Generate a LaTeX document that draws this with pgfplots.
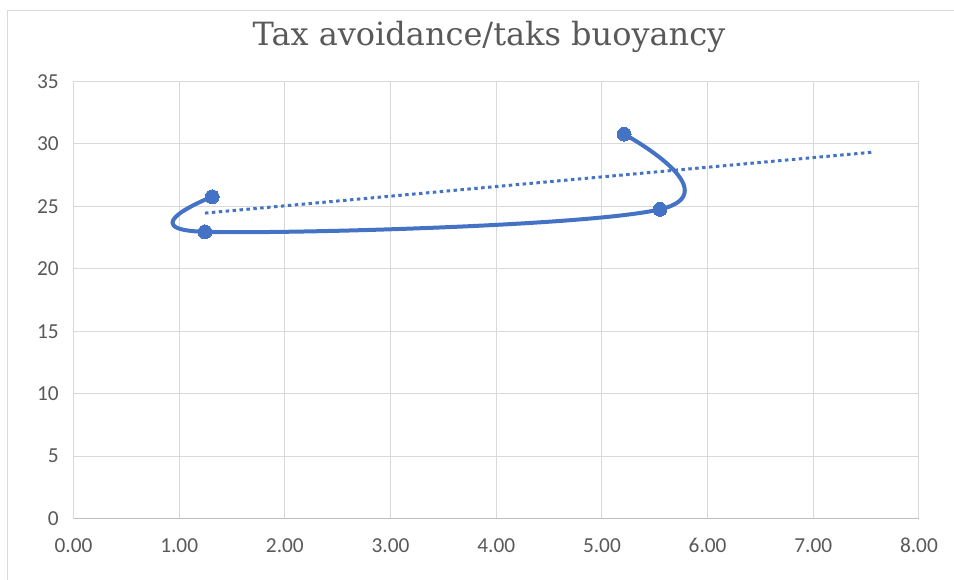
\documentclass[border=0pt]{standalone}
\usepackage{fontspec}
\setmainfont{Carlito}
\newfontfamily\titlefont{DejaVu Serif}
\usepackage{pgfplots}
\pgfplotsset{compat=1.18}
\definecolor{xlblue}{HTML}{4472C4}
\definecolor{xlgrid}{HTML}{D9D9D9}
\definecolor{xlaxis}{HTML}{BFBFBF}
\definecolor{xltext}{HTML}{595959}
\begin{document}
\begin{tikzpicture}[x=0.75pt,y=0.75pt]
\begin{axis}[
  at={(0,0)}, anchor=south west,
  scale only axis, width=634.1pt, height=327.75pt,
  xmin=0, xmax=8, ymin=0, ymax=35,
  xtick={0,1,...,8}, ytick={0,5,...,35},
  grid=major, major grid style={xlgrid, line width=0.75pt},
  axis x line*=bottom, axis y line*=left,
  x axis line style={xlaxis, line width=0.75pt, -},
  y axis line style={xlgrid, line width=0.75pt, -},
  major tick length=0pt,
  /pgf/number format/assume math mode=true,
  tick label style={font=\fontsize{16}{18}\selectfont, text=xltext, inner sep=0pt},
  xticklabel style={anchor=north, yshift=-14.6pt,
    /pgf/number format/.cd, fixed, fixed zerofill, precision=2},
  yticklabel style={anchor=east, xshift=-10.9pt},
  clip=false,
]
% series, in the order Excel joins them
\addplot[xlblue, line width=3pt, smooth, tension=0.62,
  mark=*, mark size=5.2pt, mark options={fill=xlblue, draw=xlblue, line width=0pt}]
  coordinates {(1.312,25.77) (1.244,22.96) (5.549,24.76) (5.211,30.78)};
% linear trendline, forecast 2 units forward
\addplot[xlblue, line width=2.25pt, dash pattern=on 2.6pt off 2.6pt]
  coordinates {(1.244,24.46) (7.549,29.33)};
\end{axis}
\node[anchor=base, text=xltext, inner sep=0pt, font=\titlefont\fontsize{24}{28}\selectfont]
  at (415.5,472.5) {Tax avoidance/taks buoyancy};
\draw[xlgrid, line width=0.75pt] (-65.5,-61) -- (-65.5,507.5) -- (881,507.5);
\pgfresetboundingbox
\path[use as bounding box] (-73.5,-60.5) rectangle (880.5,518.5);
\end{tikzpicture}
\end{document}
